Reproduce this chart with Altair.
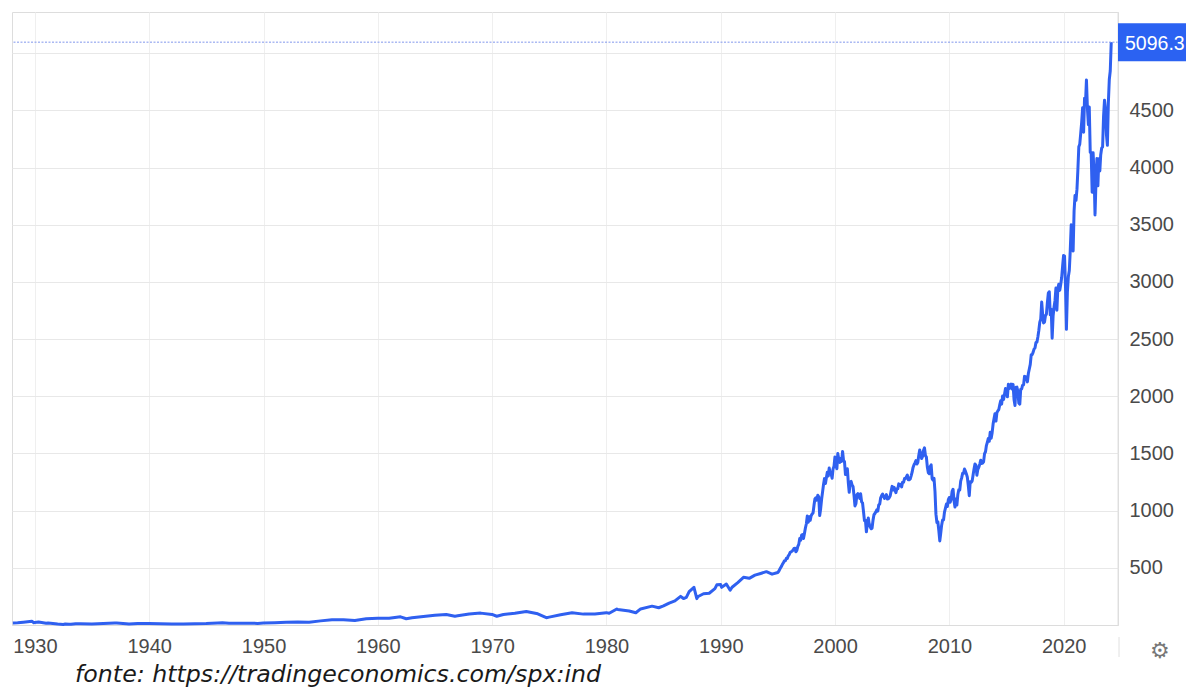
import altair as alt
import pandas as pd

# ---- data (S&P 500 index level) ----
early_dates = [
    "1928-01", "1928-06", "1928-12", "1929-09", "1929-11", "1929-12",
    "1930-04", "1930-12", "1931-02", "1931-12", "1932-06", "1932-08", "1932-12",
    "1933-02", "1933-07", "1933-12", "1934-12", "1935-12", "1936-12",
    "1937-02", "1937-12", "1938-03", "1938-12", "1939-12", "1940-12", "1941-12",
    "1942-04", "1942-12", "1943-12", "1944-12", "1945-12", "1946-05", "1946-12",
    "1947-12", "1948-12", "1949-06", "1949-12", "1950-12", "1951-12", "1952-12",
    "1953-12", "1954-12", "1955-12", "1956-12", "1957-12", "1958-12", "1959-12",
    "1960-12", "1961-12", "1962-06", "1962-12", "1963-12", "1964-12", "1965-12",
    "1966-09", "1966-12", "1967-12", "1968-12", "1969-12", "1970-05", "1970-12",
    "1971-12", "1972-12", "1973-12", "1974-09", "1974-12", "1975-12", "1976-12",
    "1977-12", "1978-12", "1979-12", "1980-03", "1980-11", "1980-12", "1981-12",
    "1982-07", "1982-12", "1983-12", "1984-07", "1984-12", "1985-06", "1985-12",
    "1986-06", "1986-09", "1986-12", "1987-03", "1987-08", "1987-11", "1987-12",
    "1988-06", "1988-12", "1989-06", "1989-08", "1989-12", "1990-01", "1990-06",
    "1990-10", "1990-12", "1991-06", "1991-12", "1992-06", "1992-12", "1993-06",
    "1993-12", "1994-06", "1994-12",
]
early_values = [
    17.6, 19.7, 24.4, 31.9, 20.6, 21.5,
    25.5, 15.3, 18.1, 8.1, 4.4, 8.4, 6.9,
    5.7, 11.2, 10.1, 9.5, 13.4, 17.2,
    18.1, 10.6, 8.5, 13.2, 12.5, 10.6, 8.7,
    7.8, 9.8, 11.7, 13.3, 17.4, 19.3, 15.3,
    15.3, 15.2, 14.0, 16.8, 20.4, 23.8, 26.6,
    24.8, 36.0, 45.5, 46.7, 40.0, 55.2, 59.9,
    58.1, 71.6, 54.8, 63.1, 75.0, 84.8, 92.4,
    76.6, 80.3, 96.5, 103.9, 92.1, 76.6, 92.2,
    102.1, 118.1, 97.6, 63.5, 68.6, 90.2, 107.5,
    95.1, 96.1, 107.9, 102.1, 140.5, 135.8, 122.6,
    107.1, 140.6, 164.9, 150.7, 167.2, 191.9, 211.3,
    250.8, 231.3, 242.2, 291.7, 329.8, 230.3, 247.1,
    273.5, 277.7, 317.9, 351.5, 353.4, 329.1, 358.0,
    304.0, 330.2, 371.2, 417.1, 408.1, 435.7, 450.5,
    466.5, 444.3, 459.3,
]

monthly_start_year = 1995
monthly_values = [
    [470, 487, 501, 515, 533, 545, 562, 562, 584, 582, 605, 616],
    [636, 640, 646, 654, 669, 671, 640, 652, 687, 705, 757, 741],
    [786, 791, 757, 801, 848, 885, 954, 899, 947, 915, 955, 970],
    [980, 1049, 1102, 1112, 1091, 1134, 1121, 957, 1017, 1099, 1164, 1229],
    [1280, 1238, 1286, 1335, 1302, 1373, 1329, 1320, 1283, 1363, 1389, 1469],
    [1394, 1366, 1499, 1452, 1421, 1455, 1431, 1518, 1437, 1429, 1315, 1320],
    [1366, 1240, 1160, 1249, 1256, 1224, 1211, 1134, 1041, 1060, 1139, 1148],
    [1130, 1107, 1147, 1077, 1067, 990, 912, 916, 815, 886, 936, 880],
    [856, 841, 848, 917, 964, 975, 990, 1008, 996, 1051, 1058, 1112],
    [1131, 1145, 1126, 1107, 1121, 1141, 1102, 1104, 1115, 1130, 1174, 1212],
    [1181, 1204, 1181, 1157, 1192, 1191, 1234, 1220, 1229, 1207, 1249, 1248],
    [1280, 1281, 1295, 1311, 1270, 1270, 1277, 1304, 1336, 1378, 1401, 1418],
    [1438, 1407, 1421, 1482, 1531, 1503, 1455, 1474, 1527, 1549, 1481, 1468],
    [1379, 1331, 1323, 1386, 1400, 1280, 1267, 1283, 1165, 969, 896, 903],
    [826, 735, 798, 873, 919, 919, 987, 1021, 1057, 1036, 1096, 1115],
    [1074, 1104, 1169, 1187, 1089, 1031, 1102, 1049, 1141, 1183, 1181, 1258],
    [1286, 1327, 1326, 1364, 1345, 1321, 1292, 1219, 1131, 1253, 1247, 1258],
    [1312, 1366, 1408, 1398, 1310, 1362, 1379, 1407, 1441, 1412, 1416, 1426],
    [1498, 1515, 1569, 1598, 1631, 1606, 1686, 1633, 1682, 1757, 1806, 1848],
    [1783, 1859, 1872, 1884, 1924, 1960, 1931, 2003, 1972, 2018, 2068, 2059],
    [1995, 2105, 2068, 2086, 2107, 2063, 2104, 1972, 1920, 2079, 2080, 2044],
    [1940, 1932, 2060, 2065, 2097, 2099, 2174, 2171, 2168, 2126, 2199, 2239],
    [2279, 2364, 2363, 2384, 2412, 2423, 2470, 2472, 2519, 2575, 2648, 2674],
    [2824, 2714, 2641, 2648, 2705, 2718, 2816, 2902, 2914, 2712, 2760, 2507],
    [2704, 2784, 2834, 2946, 2752, 2942, 2980, 2926, 2977, 3038, 3141, 3231],
    [3226, 2954, 2585, 2912, 3044, 3100, 3271, 3500, 3363, 3270, 3622, 3756],
    [3714, 3811, 3973, 4181, 4204, 4298, 4395, 4523, 4308, 4605, 4567, 4766],
    [4516, 4374, 4530, 4132, 4132, 3785, 4130, 3955, 3586, 3872, 4080, 3840],
    [4077, 3970, 4109, 4169, 4180, 4450, 4589, 4508, 4288, 4194, 4568, 4770],
    [4846, 5096.3],
]

last_value = 5096.3
last_label = "5096.3"
x_tick_years = [1930, 1940, 1950, 1960, 1970, 1980, 1990, 2000, 2010, 2020]
y_tick_values = [500, 1000, 1500, 2000, 2500, 3000, 3500, 4000, 4500, 5000]
caption = "fonte: https://tradingeconomics.com/spx:ind"

# ---- build table ----
dates, values = [], []
for d, v in zip(early_dates, early_values):
    dates.append(d + "-28")
    values.append(v)
for i, row in enumerate(monthly_values):
    yr = monthly_start_year + i
    for m, v in enumerate(row):
        dates.append(f"{yr}-{m + 1:02d}-28")
        values.append(v)
df = pd.DataFrame({"date": dates, "value": values})

W, H = 1106, 613
BLUE = "#2f60f0"
BOX = "#2b62f2"

x_scale = alt.Scale(domain=["1928-01-01", "2024-10-01"])
y_scale = alt.Scale(domain=[0, 5360], nice=False, zero=False)

line = alt.Chart(df).mark_line(color=BLUE, strokeWidth=3, strokeJoin="round").encode(
    x=alt.X("date:T", scale=x_scale, title=None,
            axis=alt.Axis(values=[alt.DateTime(year=y, month=1, date=1) for y in x_tick_years],
                          format="%Y", ticks=False, labelFontSize=20, labelColor="#4a4a4a",
                          labelFont="Liberation Sans", labelPadding=11, domainColor="#dcdcdc",
                          gridColor="#efefef", labelFlush=False)),
    y=alt.Y("value:Q", scale=y_scale, title=None,
            axis=alt.Axis(orient="right", values=y_tick_values, format="d", ticks=False,
                          domain=False, labelFontSize=20, labelColor="#4a4a4a",
                          labelFont="Liberation Sans", labelPadding=11, labelAlign="left",
                          gridColor="#e8e8e8",
                          labelExpr="datum.value == 5000 ? '' : datum.label")),
)

last_df = pd.DataFrame({"v": [last_value], "label": [last_label]})

dotted = alt.Chart(last_df).mark_rule(color="#8096ec", strokeDash=[2, 1.5], strokeWidth=1).encode(
    y=alt.Y("v:Q", scale=y_scale)
)

box = alt.Chart(last_df).mark_rect(color=BOX, height=38).encode(
    y=alt.Y("v:Q", scale=y_scale), x=alt.value(W), x2=alt.value(W + 90)
)

box_text = alt.Chart(last_df).mark_text(align="left", baseline="middle", fontSize=19.5,
                                        color="white", font="Liberation Sans", dy=2).encode(
    y=alt.Y("v:Q", scale=y_scale), x=alt.value(W + 7), text="label:N"
)

border_df = pd.DataFrame({"k": [1]})
right_border = alt.Chart(border_df).mark_rule(color="#e0e0e0").encode(
    x=alt.value(W), y=alt.value(0), y2=alt.value(H)
)
sep = alt.Chart(border_df).mark_rule(color="#e0e0e0").encode(
    x=alt.value(W + 1), y=alt.value(H + 12), y2=alt.value(H + 32)
)
gear = alt.Chart(border_df).mark_text(text="\u2699", fontSize=22, color="#777",
                                      baseline="middle", align="center").encode(
    x=alt.value(W + 42), y=alt.value(H + 26)
)

cap = alt.Chart(pd.DataFrame({"t": [caption]})).mark_text(
    align="left", baseline="alphabetic", fontSize=23.7, fontStyle="italic",
    font="DejaVu Sans", color="#1a1a1a").encode(
    text="t:N", x=alt.value(63), y=alt.value(H + 57)
)

chart = alt.layer(line, dotted, right_border, sep, box, box_text, gear, cap).properties(
    width=W, height=H,
    autosize=alt.AutoSizeParams(type="none"),
    padding={"left": 4, "top": 4, "right": 68, "bottom": 64},
).configure_view(stroke=None).configure(background="white")

chart.save("out.html", embed_options={"renderer": "svg", "actions": False})
